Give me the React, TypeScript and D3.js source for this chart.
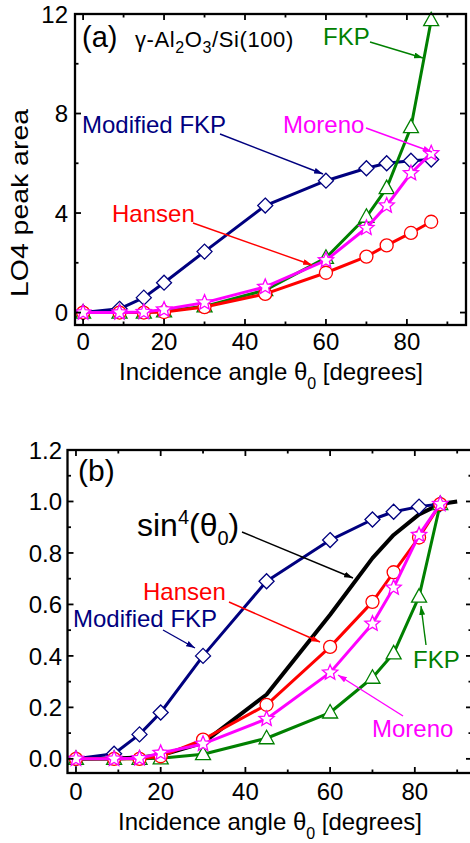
import * as d3 from "d3";

const FONT = "'Liberation Sans', Arial, Helvetica, sans-serif";

// incidence angles (degrees) shared by every computed series
const angles = [0, 9, 15, 20, 30, 45, 60, 70, 75, 81, 86];

// panel (a): LO4 peak area
const modFkpA = [0, 0.15, 0.6, 1.2, 2.45, 4.3, 5.3, 5.8, 6.0, 6.1, 6.15];
const fkpA = [0, 0, 0, 0.05, 0.25, 0.9, 2.2, 3.85, 5.0, 7.45, 11.75];
const hansenA = [0, 0, 0, 0.02, 0.22, 0.75, 1.6, 2.25, 2.7, 3.2, 3.65];
const morenoA = [0, 0, 0.02, 0.12, 0.4, 1.03, 2.1, 3.4, 4.3, 5.6, 6.4];

// panel (b): normalised
const modFkpB = [0, 0.02, 0.095, 0.18, 0.4, 0.69, 0.85, 0.93, 0.96, 0.98, 0.99];
const fkpB = [0, 0, 0, 0.002, 0.018, 0.08, 0.18, 0.315, 0.41, 0.63, 0.99];
const hansenB = [0, 0, 0, 0.01, 0.075, 0.21, 0.435, 0.61, 0.725, 0.86, 0.99];
const morenoB = [0, 0, 0.002, 0.023, 0.058, 0.155, 0.335, 0.525, 0.665, 0.87, 0.99];
const sinAngles = [0, 9, 15, 20, 30, 45, 60, 70, 75, 81, 86, 90];
const sin4B = [0, 0.001, 0.005, 0.014, 0.062, 0.25, 0.56, 0.78, 0.87, 0.95, 0.99, 1.0];

// tick labels
const xMajor = [0, 20, 40, 60, 80];
const xMinor = [10, 30, 50, 70, 90];
const yMajorA = [0, 4, 8, 12];
const yMinorA = [2, 6, 10];
const yMajorB = [0, 0.2, 0.4, 0.6, 0.8, 1.0, 1.2];
const yMinorB = [0.1, 0.3, 0.5, 0.7, 0.9, 1.1];

const NAVY = "#00007f";
const GREEN = "#008000";
const RED = "#ff0000";
const MAGENTA = "#ff00ff";

type Scale = d3.ScaleLinear<number, number>;
type MarkerType = "diamond" | "triangle" | "circle" | "star" | "none";

const starPath = (() => {
  const pts: [number, number][] = [];
  for (let i = 0; i < 10; i++) {
    const r = i % 2 === 0 ? 8 : 3.6;
    const a = (Math.PI / 5) * i - Math.PI / 2;
    pts.push([r * Math.cos(a), r * Math.sin(a)]);
  }
  return "M" + pts.map((p) => p.join(",")).join("L") + "Z";
})();

const Mark = ({ type, cx, cy, color }: { type: MarkerType; cx: number; cy: number; color: string }) => {
  const common = { fill: "#fff", stroke: color, strokeWidth: 1.3 };
  if (type === "diamond")
    return <path d="M0,-7.5L7.5,0L0,7.5L-7.5,0Z" transform={`translate(${cx},${cy})`} {...common} />;
  if (type === "triangle")
    return <path d="M0,-8L7.5,5.5L-7.5,5.5Z" transform={`translate(${cx},${cy})`} {...common} />;
  if (type === "circle") return <circle cx={cx} cy={cy} r={6.5} {...common} />;
  if (type === "star") return <path d={starPath} transform={`translate(${cx},${cy})`} {...common} />;
  return null;
};

const Series = ({
  xs, ys, x, y, color, marker, width = 3,
}: { xs: number[]; ys: number[]; x: Scale; y: Scale; color: string; marker: MarkerType; width?: number }) => {
  const pts = xs.map((v, i) => [v, ys[i]] as [number, number]);
  const line = d3.line<[number, number]>().x((d) => x(d[0])).y((d) => y(d[1]));
  return (
    <g>
      <path d={line(pts) || ""} fill="none" stroke={color} strokeWidth={width} strokeLinejoin="round" />
      {pts.map((d, i) => (
        <Mark key={i} type={marker} cx={x(d[0])} cy={y(d[1])} color={color} />
      ))}
    </g>
  );
};

const Axes = ({
  x, y, yMajor, yMinor, yFmt, xTickY, yTickX,
}: { x: Scale; y: Scale; yMajor: number[]; yMinor: number[]; yFmt: (v: number) => string; xTickY: number; yTickX: number }) => {
  const [x0, x1] = x.range();
  const [y0, y1] = y.range();
  const tk = { stroke: "#000", strokeWidth: 1.8 };
  return (
    <g fontFamily={FONT} fontSize={24}>
      {xMajor.map((v) => (
        <g key={`xM${v}`}>
          <line x1={x(v)} x2={x(v)} y1={y0} y2={y0 - 6} {...tk} />
          <line x1={x(v)} x2={x(v)} y1={y1} y2={y1 + 6} {...tk} />
          <text x={x(v)} y={xTickY} textAnchor="middle">{v}</text>
        </g>
      ))}
      {xMinor.map((v) => (
        <g key={`xm${v}`}>
          <line x1={x(v)} x2={x(v)} y1={y0} y2={y0 - 3.5} {...tk} />
          <line x1={x(v)} x2={x(v)} y1={y1} y2={y1 + 3.5} {...tk} />
        </g>
      ))}
      {yMajor.map((v) => (
        <g key={`yM${v}`}>
          <line x1={x0} x2={x0 + 6} y1={y(v)} y2={y(v)} {...tk} />
          <line x1={x1} x2={x1 - 6} y1={y(v)} y2={y(v)} {...tk} />
          <text x={yTickX} y={y(v)} dy="0.36em" textAnchor="end">{yFmt(v)}</text>
        </g>
      ))}
      {yMinor.map((v) => (
        <g key={`ym${v}`}>
          <line x1={x0} x2={x0 + 3.5} y1={y(v)} y2={y(v)} {...tk} />
          <line x1={x1} x2={x1 - 3.5} y1={y(v)} y2={y(v)} {...tk} />
        </g>
      ))}
      <rect x={x0} y={y1} width={x1 - x0} height={y0 - y1} fill="none" stroke="#000" strokeWidth={2.3} />
    </g>
  );
};

const Arrow = ({ from, to, color }: { from: [number, number]; to: [number, number]; color: string }) => (
  <line
    x1={from[0]} y1={from[1]} x2={to[0]} y2={to[1]}
    stroke={color} strokeWidth={1.4} markerEnd={`url(#arr-${color.slice(1)})`}
  />
);

const XLabel = ({ cx, y }: { cx: number; y: number }) => (
  <text x={cx} y={y} textAnchor="middle" fontFamily={FONT} fontSize={24}>
    Incidence angle θ<tspan fontSize={16} dy={9}>0</tspan>
    <tspan dy={-9}> [degrees]</tspan>
  </text>
);

export default function App() {
  const xA = d3.scaleLinear().domain([-2, 94.6]).range([75, 466]);
  const yA = d3.scaleLinear().domain([-0.5, 12]).range([325, 14]);
  const xB = d3.scaleLinear().domain([-2, 93.5]).range([67.5, 472]);
  const yB = d3.scaleLinear().domain([-0.055, 1.2]).range([773, 450]);

  return (
    <svg
      width={470}
      height={843}
      viewBox="0 0 470 843"
      style={{ position: "absolute", left: 0, top: 0, background: "#fff" }}
    >
      <defs>
        {[NAVY, GREEN, RED, MAGENTA, "#000000"].map((c) => (
          <marker
            key={c}
            id={`arr-${c.slice(1)}`}
            viewBox="0 0 10 10"
            refX={10}
            refY={5}
            markerWidth={9}
            markerHeight={6}
            markerUnits="userSpaceOnUse"
            orient="auto"
            preserveAspectRatio="none"
          >
            <path d="M0,0L10,5L0,10Z" fill={c} />
          </marker>
        ))}
      </defs>

      {/* panel (a) */}
      <Series xs={angles} ys={modFkpA} x={xA} y={yA} color={NAVY} marker="diamond" />
      <Series xs={angles} ys={fkpA} x={xA} y={yA} color={GREEN} marker="triangle" />
      <Series xs={angles} ys={hansenA} x={xA} y={yA} color={RED} marker="circle" />
      <Series xs={angles} ys={morenoA} x={xA} y={yA} color={MAGENTA} marker="star" />
      <Axes x={xA} y={yA} yMajor={yMajorA} yMinor={yMinorA} yFmt={(v) => String(v)} xTickY={350} yTickX={68} />
      <text
        transform="translate(28,203) rotate(-90)"
        textAnchor="middle"
        fontFamily={FONT}
        fontSize={24}
        textLength={188}
        lengthAdjust="spacingAndGlyphs"
      >
        LO4 peak area
      </text>
      <XLabel cx={271} y={380} />

      <g fontFamily={FONT} fontSize={24}>
        <text x={82} y={47} fontSize={29}>(a)</text>
        <text x={135} y={47} fontSize={22} letterSpacing={0.6}>
          γ-Al<tspan fontSize={16} dy={6}>2</tspan>
          <tspan dy={-6}>O</tspan>
          <tspan fontSize={16} dy={6}>3</tspan>
          <tspan dy={-6}>/Si(100)</tspan>
        </text>
        <text x={323} y={45} fill={GREEN}>FKP</text>
        <Arrow from={[370, 42]} to={[423, 58]} color={GREEN} />
        <text x={283} y={133} fill={MAGENTA}>Moreno</text>
        <Arrow from={[366, 128]} to={[432, 152]} color={MAGENTA} />
        <text x={82} y={133} fill={NAVY}>Modified FKP</text>
        <Arrow from={[220, 134]} to={[323, 174]} color={NAVY} />
        <text x={112} y={222} fill={RED}>Hansen</text>
        <Arrow from={[193, 223]} to={[312, 265]} color={RED} />
      </g>

      {/* panel (b) */}
      <Series xs={sinAngles} ys={sin4B} x={xB} y={yB} color="#000" marker="none" width={4} />
      <Series xs={angles} ys={modFkpB} x={xB} y={yB} color={NAVY} marker="diamond" />
      <Series xs={angles} ys={fkpB} x={xB} y={yB} color={GREEN} marker="triangle" />
      <Series xs={angles} ys={hansenB} x={xB} y={yB} color={RED} marker="circle" />
      <Series xs={angles} ys={morenoB} x={xB} y={yB} color={MAGENTA} marker="star" />
      <Axes x={xB} y={yB} yMajor={yMajorB} yMinor={yMinorB} yFmt={d3.format(".1f")} xTickY={800} yTickX={62} />
      <XLabel cx={270} y={830} />

      <g fontFamily={FONT} fontSize={24}>
        <text x={78} y={481} fontSize={30}>(b)</text>
        <text x={137} y={536} fontSize={32}>
          sin<tspan fontSize={20} dy={-12}>4</tspan>
          <tspan dy={12}>(θ</tspan>
          <tspan fontSize={20} dy={9}>0</tspan>
          <tspan dy={-9}>)</tspan>
        </text>
        <Arrow from={[242, 532]} to={[353, 578]} color="#000000" />
        <text x={143} y={600} fill={RED}>Hansen</text>
        <Arrow from={[229, 602]} to={[320, 642]} color={RED} />
        <text x={73} y={627} fill={NAVY}>Modified FKP</text>
        <Arrow from={[163, 630]} to={[195, 648]} color={NAVY} />
        <text x={413} y={668} fill={GREEN}>FKP</text>
        <Arrow from={[426, 645]} to={[421, 606]} color={GREEN} />
        <text x={372} y={737} fill={MAGENTA}>Moreno</text>
        <Arrow from={[403, 716]} to={[338, 675]} color={MAGENTA} />
      </g>
    </svg>
  );
}
